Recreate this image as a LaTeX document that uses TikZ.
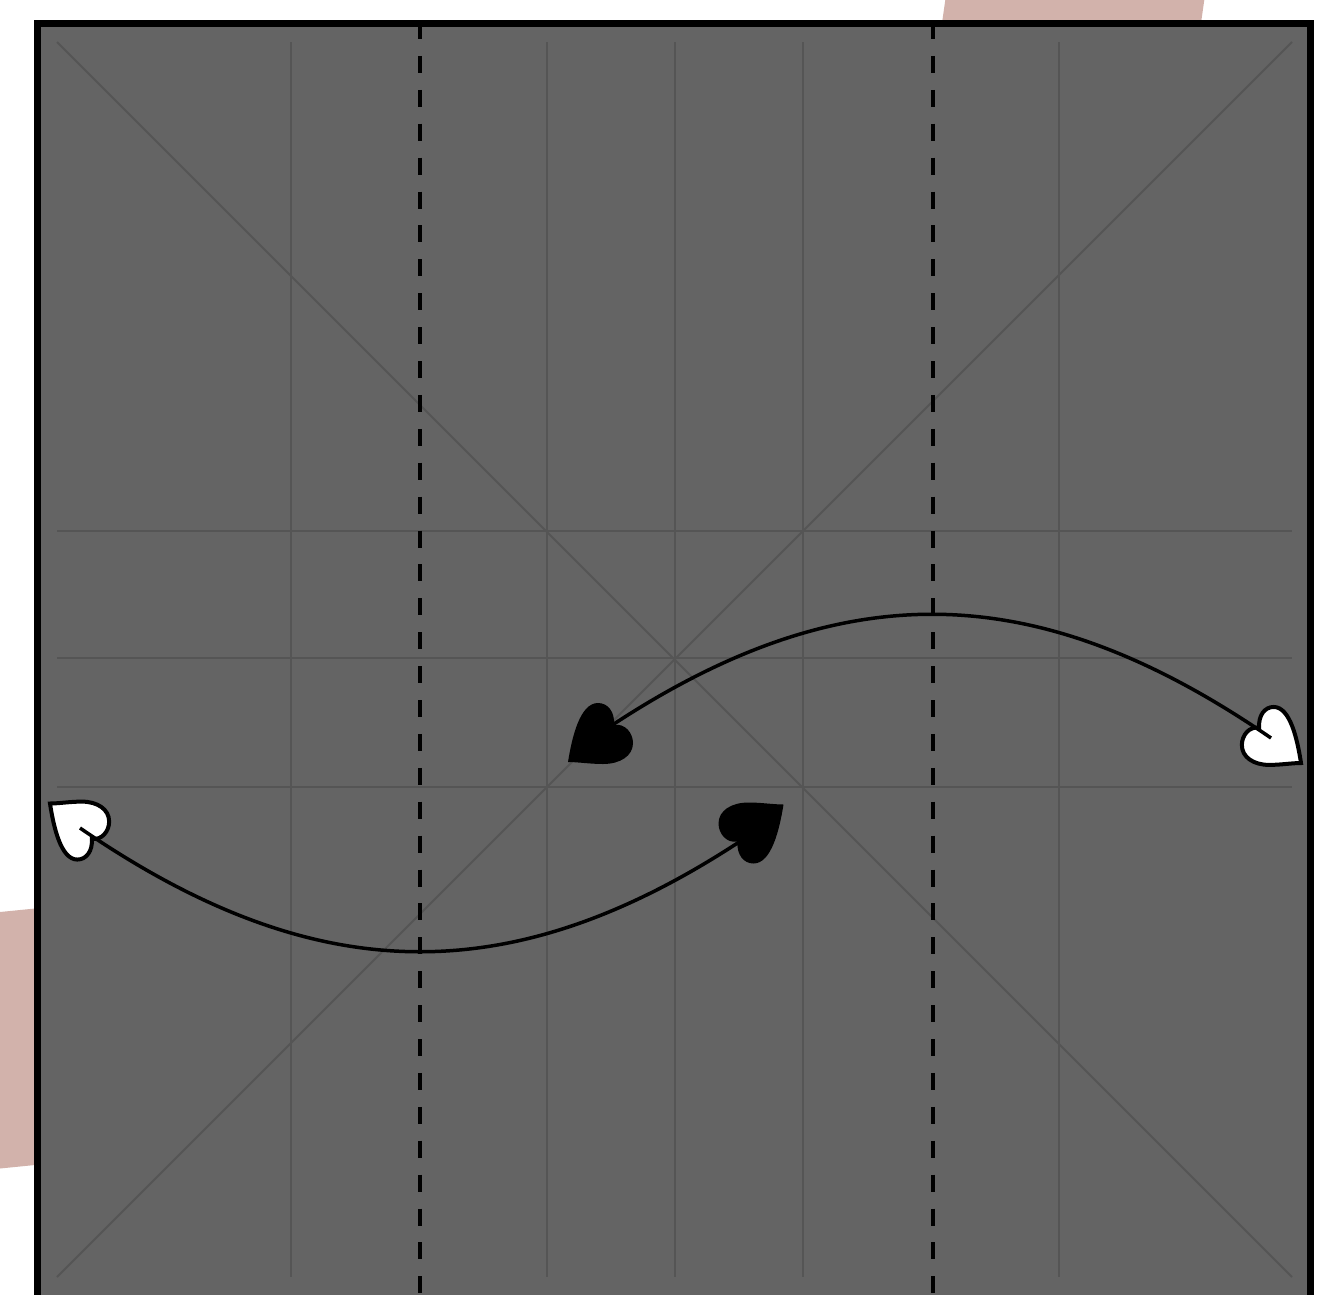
\documentclass[tikz,border=0pt]{standalone}
\tikzset{
  px/.style={x=1pt,y=-1pt},
  pinkband/.style={fill=bandpink,draw=none},
  paper/.style={fill=papergray,draw=black,line width=7pt},
  crease/.style={draw=creasegray,line width=2pt},
  fold/.style={draw=black,line width=4pt,dash pattern=on 17pt off 16.9pt},
  arc line/.style={draw=black,line width=3.5pt},
  blackheart/.style={fill=black,draw=none},
  whiteheart/.style={fill=white,draw=black,line width=4pt,miter limit=10},
  heart/.pic={
    \path[pic actions] (0,0) .. controls (4,-25) and (12,-59) .. (30,-59)
      .. controls (40,-59) and (47,-50) .. (46,-37)
      .. controls (57,-39) and (65,-29) .. (65,-19)
      .. controls (65,-6) and (52,2) .. (35,2)
      .. controls (22,2) and (10,0) .. (0,0) -- cycle;
  }
}
\definecolor{bandpink}{HTML}{D2B2AB}
\definecolor{papergray}{HTML}{646464}
\definecolor{creasegray}{HTML}{555555}
\begin{document}
\begin{tikzpicture}[px]
\useasboundingbox (0,0) rectangle (1334,1294);
\clip (0,0) rectangle (1334,1294);
\path[pinkband] (946,-5) -- (1205,-5) -- (1200,30) -- (941,30) -- cycle;
\path[pinkband] (-5,912.5) -- (45,907.5) -- (45,1164) -- (-5,1169) -- cycle;
\path[paper] (37.2,23.5) rectangle (1310.8,1301);
\foreach \x in {291.2,547.2,675.2,803.2,1059.2} \draw[crease] (\x,42) -- (\x,1277);
\foreach \y in {530.5,658,786.5} \draw[crease] (57,\y) -- (1292,\y);
\draw[crease] (57,42) -- (1292,1277);
\draw[crease] (1292,42) -- (57,1277);
\draw[fold] (420.3,22) -- (420.3,1294);
\draw[fold] (932.6,22) -- (932.6,1294);
\coordinate (tipA) at (568,762);
\coordinate (tipB) at (1301,763);
\coordinate (tipC) at (50,803.5);
\coordinate (tipD) at (783.5,804.5);
\coordinate (endA) at (593,738);
\coordinate (endB) at (1271,738);
\coordinate (endC) at (80,828);
\coordinate (endD) at (760,828);
\pic[blackheart] at (tipA) {heart};
\pic[whiteheart,xscale=-.91,yscale=.95] at (tipB) {heart};
\pic[whiteheart,xscale=.91,yscale=-.95] at (tipC) {heart};
\pic[blackheart,rotate=180] at (tipD) {heart};
\draw[arc line] (endA) .. controls +(240,-165) and +(-240,-165) .. (endB);
\draw[arc line] (endC) .. controls +(240,165) and +(-240,165) .. (endD);
\end{tikzpicture}
\end{document}
